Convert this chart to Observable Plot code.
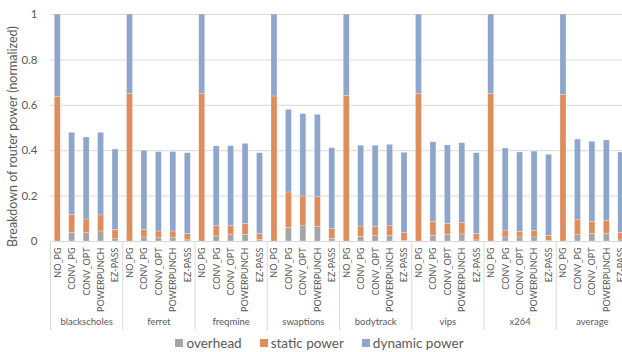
<!DOCTYPE html>
<html>
<head>
<meta charset="utf-8">
<script src="https://cdn.jsdelivr.net/npm/d3@7"></script>
<script src="https://cdn.jsdelivr.net/npm/@observablehq/plot@0.6"></script>
<style>
  html, body { margin: 0; padding: 0; background: #fff; overflow: hidden; width: 622px; height: 352px; }
  #chart svg { display: block; overflow: hidden; max-width: none; }
  .legend { height: 19px; display: flex; justify-content: center; align-items: center;
            font-family: Lato, "Open Sans", sans-serif; font-size: 13.5px; color: #595959;
            padding-left: 17px; box-sizing: border-box; width: 622px; }
  .legend .item { display: flex; align-items: center; margin: 0 9px; }
  .legend .sw { width: 8px; height: 8px; margin-right: 3px; }
</style>
</head>
<body>
<div id="chart"></div>
<div class="legend" id="legend"></div>
<script>
const groups = ["blackscholes", "ferret", "freqmine", "swaptions", "bodytrack", "vips", "x264", "average"];
const configs = ["NO_PG", "CONV_PG", "CONV_OPT", "POWERPUNCH", "EZ-PASS"];
const parts = ["overhead", "static power", "dynamic power"];
const partColors = ["#a5a5a5", "#de8d5d", "#8fa6cc"];
const yTicks = [0, 0.2, 0.4, 0.6, 0.8, 1];

// one row per benchmark, one value per configuration
const overhead = [
  [0, 0.038, 0.038, 0.044, 0.010],
  [0, 0.018, 0.017, 0.017, 0.005],
  [0, 0.023, 0.028, 0.029, 0.007],
  [0, 0.060, 0.067, 0.065, 0.012],
  [0, 0.021, 0.024, 0.025, 0.003],
  [0, 0.025, 0.029, 0.031, 0.005],
  [0, 0.018, 0.018, 0.018, 0.003],
  [0, 0.028, 0.034, 0.034, 0.005]
];
const staticPower = [
  [0.637, 0.080, 0.059, 0.071, 0.041],
  [0.650, 0.033, 0.027, 0.027, 0.029],
  [0.649, 0.044, 0.040, 0.049, 0.027],
  [0.639, 0.156, 0.131, 0.130, 0.042],
  [0.642, 0.045, 0.039, 0.042, 0.034],
  [0.649, 0.062, 0.049, 0.050, 0.029],
  [0.650, 0.030, 0.025, 0.029, 0.022],
  [0.645, 0.066, 0.053, 0.057, 0.033]
];
const dynamicPower = [
  [0.363, 0.361, 0.361, 0.364, 0.354],
  [0.350, 0.349, 0.350, 0.350, 0.355],
  [0.351, 0.352, 0.352, 0.352, 0.355],
  [0.361, 0.364, 0.363, 0.363, 0.357],
  [0.358, 0.356, 0.359, 0.359, 0.354],
  [0.351, 0.350, 0.345, 0.352, 0.355],
  [0.350, 0.362, 0.349, 0.349, 0.357],
  [0.355, 0.355, 0.352, 0.354, 0.354]
];

const series = [overhead, staticPower, dynamicPower];
const key = (g, c) => g + "|" + c;
const keys = [];
const bars = [];
const rows = [];
groups.forEach((g, gi) => {
  configs.forEach((c, ci) => {
    keys.push(key(g, c));
    bars.push({key: key(g, c), config: c});
    parts.forEach((p, pi) => {
      rows.push({key: key(g, c), group: g, config: c, part: p, value: series[pi][gi][ci]});
    });
  });
});

const W = 622, H = 333, mL = 50, mT = 14, mB = 92;
const step = 72.25 / configs.length;
const xRange = [mL, mL + step * keys.length];

const plot = Plot.plot({
  width: W,
  height: H,
  marginLeft: mL,
  marginRight: 0,
  marginTop: mT,
  marginBottom: mB,
  style: {fontFamily: "Lato, 'Open Sans', sans-serif", background: "#fff"},
  x: {type: "band", domain: keys, range: xRange, paddingInner: 0.585, paddingOuter: 0.2925, round: false, axis: null, label: null},
  y: {domain: [0, 1], axis: null, label: null},
  color: {domain: parts, range: partColors},
  marks: [
    Plot.gridY({ticks: yTicks.filter(d => d > 0), stroke: "#d9d9d9", strokeOpacity: 1, strokeWidth: 1}),
    Plot.ruleY([0], {stroke: "#d9d9d9", strokeWidth: 1}),
    Plot.axisX(groups.map(g => key(g, configs[0])), {
      tickSize: 89, dx: -step / 2, text: null, label: null, stroke: "#d9d9d9", strokeOpacity: 1
    }),
    Plot.axisY({ticks: yTicks, tickSize: 0, tickPadding: 13, fontSize: 11.5, fill: "#595959", label: null, tickFormat: d => String(d)}),
    Plot.text(["Breakdown of router power (normalized)"], {
      frameAnchor: "left", textAnchor: "middle", rotate: -90, dx: -38, dy: 8.5, fontSize: 12.5, fill: "#595959"
    }),
    Plot.barY(rows, {x: "key", y: "value", fill: "part", order: parts, stroke: "#ffffff", strokeWidth: 0.5, strokeOpacity: 0.5}),
    Plot.text(bars, {x: "key", y: 0, text: "config", rotate: -90, textAnchor: "end", dy: 6,
      fontSize: 9, fill: "#595959", fontFamily: "'Liberation Sans Narrow', Lato, sans-serif"}),
    Plot.text(groups, {x: g => key(g, configs[2]), y: 0, text: d => d, dy: 80, fontSize: 9.5, fill: "#595959"})
  ]
});
document.getElementById("chart").appendChild(plot);

const legend = document.getElementById("legend");
parts.forEach((p, i) => {
  const item = document.createElement("div");
  item.className = "item";
  const sw = document.createElement("span");
  sw.className = "sw";
  sw.style.background = partColors[i];
  const t = document.createElement("span");
  t.textContent = p;
  item.appendChild(sw);
  item.appendChild(t);
  legend.appendChild(item);
});
</script>
</body>
</html>
